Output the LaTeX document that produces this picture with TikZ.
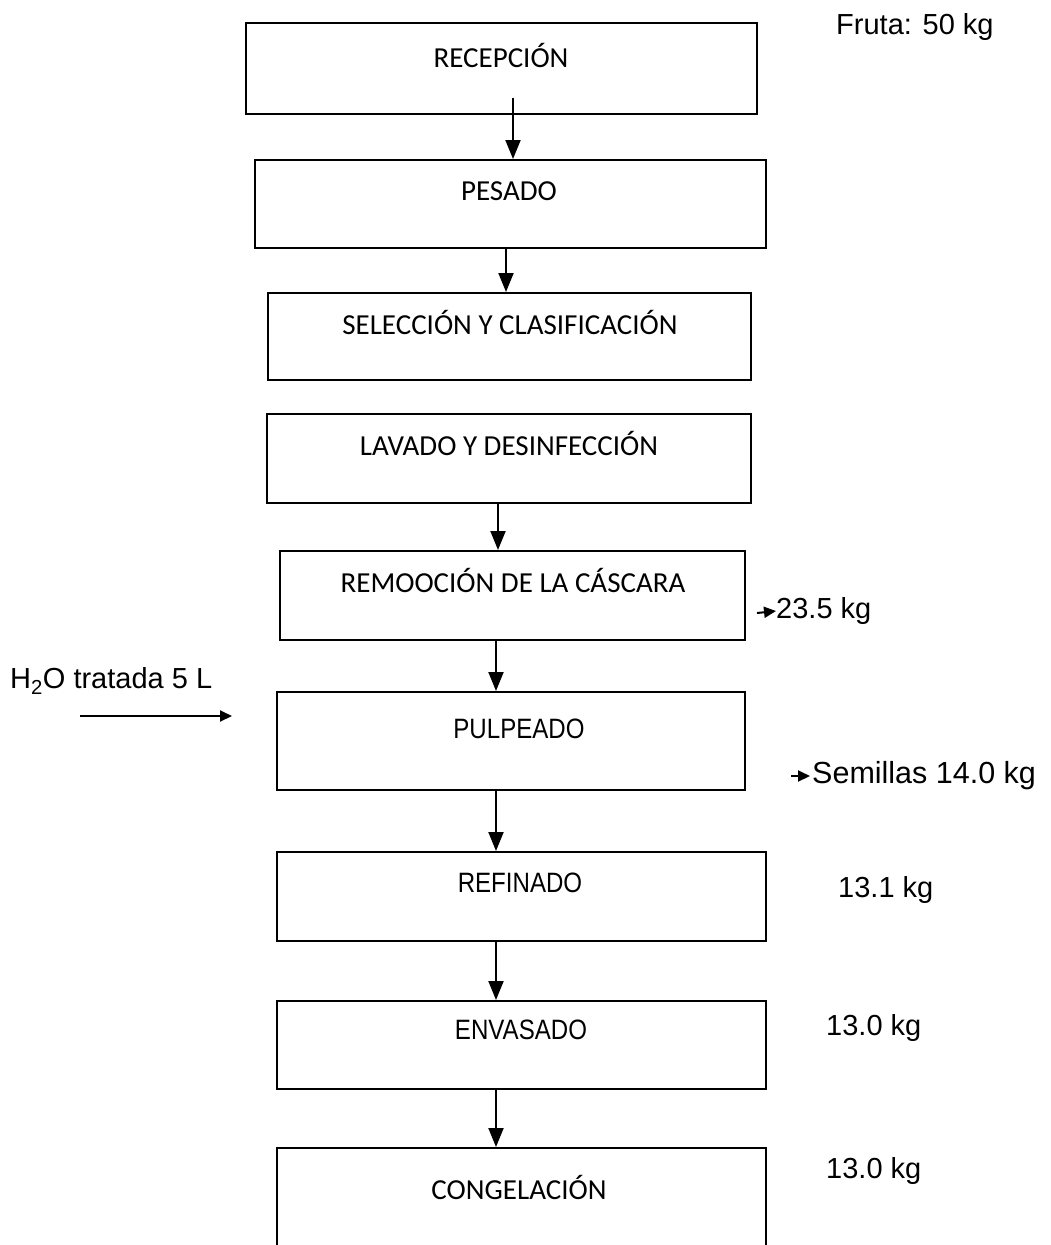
\documentclass[tikz,border=0pt]{standalone}
\usepackage{fontspec}
\setmainfont{Liberation Sans}
\newfontfamily\boxfont{Carlito}
\newfontfamily\narrowfont{Liberation Sans}[FakeStretch=0.86]
\usetikzlibrary{arrows.meta}
\begin{document}
\begin{tikzpicture}[x=1pt,y=-1pt,
  stage/.style={draw=black, line width=2pt, rectangle, inner sep=0pt},
  stagetext/.style={inner sep=0pt, font=\boxfont\fontsize{29}{32}\selectfont},
  stagenarrow/.style={inner sep=0pt, font=\narrowfont\fontsize{28}{30}\selectfont},
  note/.style={inner sep=0pt, anchor=west, font=\fontsize{29}{32}\selectfont},
  flow/.style={line width=2pt, -{Triangle[width=15pt,length=19pt]}},
  side/.style={line width=2pt, -{Triangle[width=11pt,length=12pt]}}]
\useasboundingbox (0,0) rectangle (1051,1245);

% process boxes
\node[stage, minimum width=511pt, minimum height=91pt] (b1) at (501.5,68.5) {};
\node[stage, minimum width=511pt, minimum height=88pt] (b2) at (510.5,204) {};
\node[stage, minimum width=483pt, minimum height=87pt] (b3) at (509.5,336.5) {};
\node[stage, minimum width=484pt, minimum height=89pt] (b4) at (509,458.5) {};
\node[stage, minimum width=465pt, minimum height=89pt] (b5) at (512.5,595.5) {};
\node[stage, minimum width=468pt, minimum height=98pt] (b6) at (511,741) {};
\node[stage, minimum width=489pt, minimum height=89pt] (b7) at (521.5,896.5) {};
\node[stage, minimum width=489pt, minimum height=88pt] (b8) at (521.5,1045) {};
\node[stage, minimum width=489pt, minimum height=140pt] (b9) at (521.5,1218) {};

% box titles
\node[stagetext] (t1) at (501,55) {RECEPCIÓN};
\node[stagetext] (t2) at (509,191) {PESADO};
\node[stagetext] (t3) at (510,322) {SELECCIÓN Y CLASIFICACIÓN};
\node[stagetext] (t4) at (509,443) {LAVADO Y DESINFECCIÓN};
\node[stagetext] (t5) at (513,580) {REMOOCIÓN DE LA CÁSCARA};
\node[stagenarrow] (t6) at (519,729) {PULPEADO};
\node[stagenarrow] (t7) at (520,883) {REFINADO};
\node[stagenarrow] (t8) at (521,1030) {ENVASADO};
\node[stagetext] (t9) at (519,1187) {CONGELACIÓN};

% main flow
\coordinate (s1) at (513,98);
\draw[flow] (s1) -- (s1 |- b2.north);
\draw[flow] (b2.south -| 506,0) -- (b3.north -| 506,0);
\draw[flow] (b4.south -| 498,0) -- (b5.north -| 498,0);
\draw[flow] (b5.south -| 496,0) -- (b6.north -| 496,0);
\draw[flow] (b6.south -| 496,0) -- (b7.north -| 496,0);
\draw[flow] (b7.south -| 496,0) -- (b8.north -| 496,0);
\draw[flow] (b8.south -| 496,0) -- (b9.north -| 496,0);

% water input
\node[note] (w) at (10,681) {H\textsubscript{2}O tratada 5 L};
\coordinate (win) at (80,716);
\coordinate (wend) at (232,716);
\draw[side] (win) -- (wend);

% outputs and masses
\node[note] (fruta) at (836,27) {Fruta: 50 kg};
\node[note] (cascara) at (776,611) {23.5 kg};
\coordinate (c0) at (757,613);
\draw[side] (c0) -- (cascara.west);
\node[note, font=\fontsize{30.5}{34}\selectfont] (semillas) at (812,776) {Semillas 14.0 kg};
\coordinate (s0) at (791,776);
\draw[side] (s0) -- ([xshift=-2pt]semillas.west);
\node[note] (m7) at (838,890) {13.1 kg};
\node[note] (m8) at (826,1028) {13.0 kg};
\node[note] (m9) at (826,1171) {13.0 kg};
\end{tikzpicture}
\end{document}
